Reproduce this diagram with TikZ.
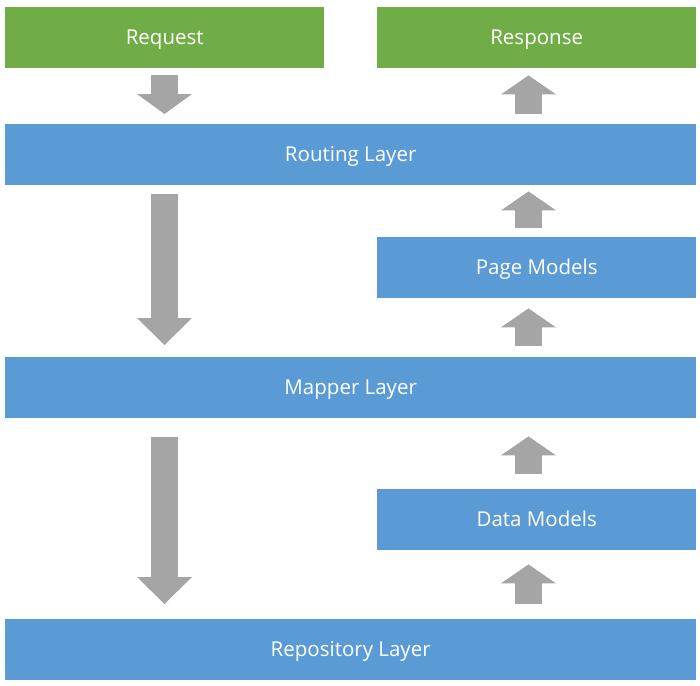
\documentclass[tikz,border=0pt]{standalone}
\usepackage{fontspec}
\setmainfont{Open Sans}
\usetikzlibrary{arrows.meta}
\definecolor{boxgreen}{HTML}{70AD47}
\definecolor{boxblue}{HTML}{5B9BD5}
\definecolor{flowgray}{HTML}{A5A5A5}
\begin{document}
\begin{tikzpicture}[x=1pt, y=-1pt,
  box/.style={anchor=north west, inner sep=0pt, text=white,
    minimum height=61pt, text height=14.5pt, text depth=0pt,
    font=\fontsize{20.5}{24}\selectfont},
  wide/.style={box, fill=boxblue, minimum width=691pt},
  half/.style={box, minimum width=319pt},
  flow/.style={flowgray, line width=27pt,
    -{Triangle[width=55pt, length=#1, line width=0pt]}},
  flow/.default=19pt]
    \useasboundingbox (0, 0) rectangle (700, 685);

    % Request and response
    \node [half, fill=boxgreen] (req) at (5, 7) {Request};
    \node [half, fill=boxgreen] (resp) at (377, 7) {Response};

    % Layers
    \foreach \n/\y/\t in {routing/124/Routing Layer, mapper/357/Mapper Layer,
                          repo/619/Repository Layer} {
      \node [wide] (\n) at (5, \y) {\t};
    }

    % Models
    \node [half, fill=boxblue] (page) at (377, 237) {Page Models};
    \node [half, fill=boxblue] (data) at (377, 489) {Data Models};

    \coordinate (downx) at (164.5, 0);
    \coordinate (upx) at (528.5, 0);

    % Going down
    \draw [flow=20pt, shorten <=7pt, shorten >=10pt]
      (downx |- req.south) -- (downx |- routing.north);
    \draw [flow=27pt, shorten <=9pt, shorten >=12pt]
      (downx |- routing.south) -- (downx |- mapper.north);
    \draw [flow=27pt, shorten <=19pt, shorten >=15pt]
      (downx |- mapper.south) -- (downx |- repo.north);

    % Going up
    \foreach \a/\b/\s/\e in {routing/resp/10/7, page/routing/9/6,
                             mapper/page/11/10, data/mapper/15/18,
                             repo/data/15/14} {
      \draw [flow, shorten <=\s pt, shorten >=\e pt]
        (upx |- \a.north) -- (upx |- \b.south);
    }
  \end{tikzpicture}
\end{document}
